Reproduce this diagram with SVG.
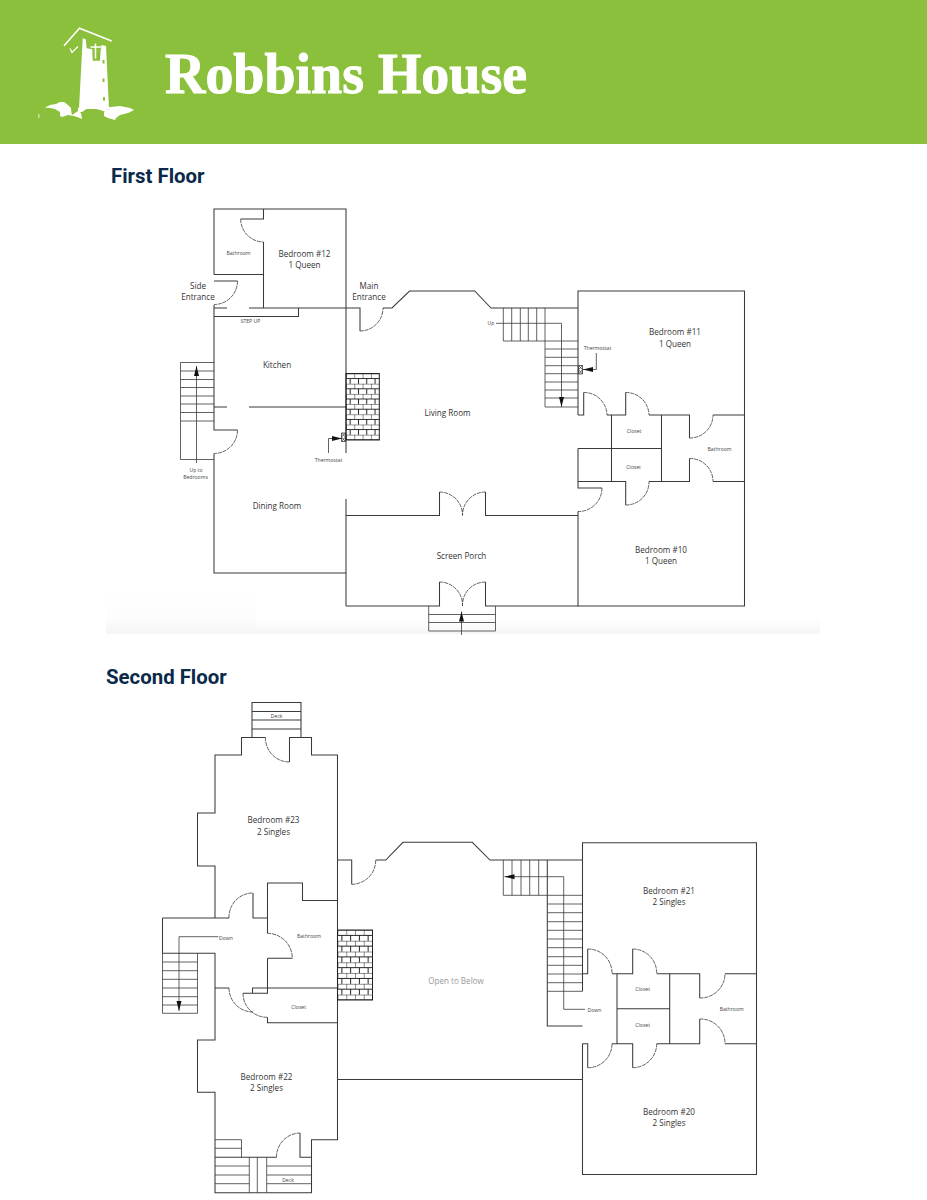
<svg xmlns="http://www.w3.org/2000/svg" width="927" height="1200" viewBox="0 0 927 1200">
<style>
.w{fill:none;stroke:#3a3a3a;stroke-width:1.05}
.t{fill:none;stroke:#3a3a3a;stroke-width:.8}
.d{fill:none;stroke:#3a3a3a;stroke-width:.8;stroke-dasharray:4 .8}
.l{font-family:"Open Sans","Liberation Sans",sans-serif;font-size:8.1px;fill:#333;text-anchor:middle}
.s{font-family:"Open Sans","Liberation Sans",sans-serif;font-size:5.1px;fill:#444;text-anchor:middle}
.h{font-family:Roboto,"Liberation Sans",sans-serif;font-weight:700;font-size:20.4px;fill:#0b2a4a}
</style>
<defs>
<linearGradient id="fade" x1="0" y1="0" x2="0" y2="1"><stop offset="0" stop-color="#f7f7f7" stop-opacity="0"/><stop offset="1" stop-color="#f5f5f5"/></linearGradient>
<pattern id="brick1" patternUnits="userSpaceOnUse" x="346" y="373.5" width="8.3" height="10.2">
<path d="M0 0H8.3M0 5.1H8.3M0 0V5.1M4.15 5.1V10.2" fill="none" stroke="#222" stroke-width="1"/>
</pattern>
<pattern id="brick2" patternUnits="userSpaceOnUse" x="337.5" y="930" width="8.75" height="10.76">
<path d="M0 0H8.75M0 5.38H8.75M0 0V5.38M4.38 5.38V10.76" fill="none" stroke="#222" stroke-width="1"/>
</pattern>
<marker id="ah" markerUnits="userSpaceOnUse" markerWidth="11" markerHeight="6" refX="10" refY="3" orient="auto"><path d="M0 .5L10 3L0 5.5Z" fill="#111"/></marker>
</defs>

<rect width="927" height="1200" fill="#fff"/>
<rect id="banner" width="927" height="144" fill="#8bc03c"/>

<g id="logo">
<path d="M64 45.700L79.500 28.300L111.700 41" fill="none" stroke="#fff" stroke-width="1.600"/>
<path d="M79 109L82.700 38.300L85.700 39.300L86.700 48.300L92.300 49.300L92.700 60.700L100 60.700L101 45L106 46L109 109Z" fill="#fff"/>
<path d="M95.500 43.500V58.500M90.500 47H101.500" fill="none" stroke="#8bc03c" stroke-width="3.200"/>
<path d="M95.500 43.500V58.500M90.500 47H101.500" fill="none" stroke="#fff" stroke-width="1.500"/>
<path d="M70 48.500L72 52.500L78 46.500" fill="none" stroke="#fff" stroke-width="1.200"/>
<rect x="102.500" y="60" width="2" height="3.500" fill="#8bc03c"/>
<rect x="102.500" y="78.500" width="2" height="3.500" fill="#8bc03c"/>
<rect x="103" y="97" width="2" height="3.500" fill="#8bc03c"/>
<path d="M45 107.500L50 105L56 104L60 102L64 102L68 105L71 108L71.500 113L72 115L78 111L81 113L82 119L77 117L74 116L68 115L62 117L60 116L60 112L55 109L50 108Z" fill="#fff"/>
<path d="M78 108L82 106L90 106L100 106L106 106L110 107L106 112L100 110L93 108L88 108L82 112L78 112Z" fill="#fff"/>
<path d="M108 110L110 107L116 106.500L120 106L125 107L130 108L134 110L128 113L120 115L116 118L115 120L108 118L104 116L104 112Z" fill="#fff"/>
<rect x="38.500" y="114" width="0.800" height="4" fill="#fff"/>
</g>
<text id="title" x="165" y="93" font-family="'Liberation Serif','Times New Roman',serif" font-weight="700" font-size="57" fill="#fff" stroke="#fff" stroke-width="1" textLength="362" lengthAdjust="spacingAndGlyphs">Robbins House</text>

<text class="h" x="111" y="183">First Floor</text>
<text class="h" x="106" y="684">Second Floor</text>

<rect x="106" y="618" width="714" height="16" fill="url(#fade)"/>
<rect x="106" y="590" width="150" height="44" fill="url(#fade)" opacity=".4"/>

<g id="first-floor-connectors">
<!-- walls -->
<path class="w" d="M214 274.500V209H346V453"/>
<path class="w" d="M263.500 209V219H240.700M263.500 242V308M214 274.500H263.500"/>
<path class="w" d="M214 281H237.500M214 305V430H237.500M214 453.500V573H346"/>
<path class="w" d="M214 308H227M249 308H360V331M383 308H392L409.500 291H474.700L491 308H578"/>
<path class="w" d="M214 316.500H298.500V308M214 407H227M249 407H346M346 499V606"/>
<path class="w" d="M578 415V291H744.500V606H578V511.500M578 415H583.700V392.500M607 415H625.700V392.500M649 415H689.500V438M713 415H744.500"/>
<path class="w" d="M611.500 415V481.500M661.500 415V481.500M578 448.500H661.500M578 448.500V488H602M578 481.500H625.700V505M649 481.500H689.500V458.500M713 481.500H744.500"/>
<path class="w" d="M346 515.500H439.500V492M485.500 492V515.500H578M346 606H439.500V582M485.500 582V606H578"/>
<!-- doors -->
<path class="d" d="M240.700 219A23 23 0 0 0 263.500 242M237.500 281A23.500 23.500 0 0 1 214 304.500M237.500 430A23.500 23.500 0 0 1 214 453.500M360 331A23 23 0 0 0 383 308"/>
<path class="d" d="M583.700 392.500A23 23 0 0 1 607 415M625.700 392.500A23 23 0 0 1 649 415M689.500 438A23 23 0 0 0 713 415M625.700 505A23 23 0 0 0 649 481.500M689.500 458.500A23 23 0 0 1 713 481.500M602 488A23.500 23.500 0 0 1 578 511.500"/>
<path class="d" d="M439.500 492A23 23 0 0 1 462.500 515.500M485.500 492A23 23 0 0 0 462.500 515.500M439.500 582A23 23 0 0 1 462.500 606M485.500 582A23 23 0 0 0 462.500 606"/>
<!-- stairs -->
<path class="t" d="M214 362.500H180.500V459.500H214M180.500 371H214M180.500 379.500H214M180.500 387.500H214M180.500 396H214M180.500 404H214M180.500 412.500H214M180.500 421H214"/>
<path class="t" d="M196.500 463V366" marker-end="url(#ah)"/>
<path class="t" d="M428.700 606V631H495.500V606M428.700 614.500H495.500M428.700 622.500H495.500"/>
<path class="t" d="M461.500 635V611.500" marker-end="url(#ah)"/>
<path class="t" d="M503.300 308V341H578M511.700 308V341M520.300 308V341M528.300 308V341M536.700 308V341M545 308V407H578M545 349H578M545 357.300H578M545 365.700H578M545 373.700H578M545 382H578M545 390H578M545 398H578"/>
<path class="t" d="M496 323.300H561.500V407" marker-end="url(#ah)"/>
<!-- thermostats -->
<path class="t" d="M328.500 453V438.500H342" marker-end="url(#ah)"/>
<path class="t" d="M341.500 433L345.500 437M345.500 433L341.500 437M341.500 433H345.500V441.500H341.500ZM341.500 437L345.500 441.500M345.500 437L341.500 441.500"/>
<path class="t" d="M596.300 353V369.500H583" marker-end="url(#ah)"/>
<path class="t" d="M578.500 365.500L582.500 369.700M582.500 365.500L578.500 369.700M578.500 365.500H582.500V374H578.500ZM578.500 369.700L582.500 374M582.500 369.700L578.500 374"/>
</g>
<rect id="fireplace-1" x="346" y="373.500" width="33.300" height="66.500" fill="url(#brick1)" stroke="#222" stroke-width="1"/>

<g id="first-floor-labels">
<text class="l" x="304.500" y="257">Bedroom #12</text><text class="l" x="304.500" y="268">1 Queen</text>
<text class="s" x="238.500" y="255">Bathroom</text>
<text class="l" x="198" y="289">Side</text><text class="l" x="198" y="300">Entrance</text>
<text class="l" x="369" y="289">Main</text><text class="l" x="369" y="300">Entrance</text>
<text class="s" x="250.500" y="323">STEP UP</text>
<text class="l" x="277" y="368">Kitchen</text>
<text class="l" x="277" y="509">Dining Room</text>
<text class="l" x="447.500" y="416">Living Room</text>
<text class="s" x="328.500" y="461.500">Thermostat</text>
<text class="s" x="196" y="472">Up to</text><text class="s" x="195.500" y="479">Bedrooms</text>
<text class="s" x="491" y="325">Up</text>
<text class="s" x="597.500" y="349.500">Thermostat</text>
<text class="l" x="675" y="335">Bedroom #11</text><text class="l" x="675" y="346.500">1 Queen</text>
<text class="s" x="634" y="432.500">Closet</text><text class="s" x="633.500" y="468.500">Closet</text>
<text class="s" x="719.500" y="450.500">Bathroom</text>
<text class="l" x="661" y="553">Bedroom #10</text><text class="l" x="661" y="564">1 Queen</text>
<text class="l" x="461.500" y="559">Screen Porch</text>
</g>

<g id="second-floor-connectors">
<!-- west wing -->
<path class="w" d="M252 737.500V702.500H301V737.500M252 711.500H301M252 720H301M252 729H301"/>
<path class="w" d="M265.500 737.500H241.500V755H215V813H197.500V866H215V918M289.500 762V737.500H311.500V755H337.500V1139.700H311.500V1157.300H300V1133"/>
<path class="w" d="M162.500 918H229M253 893V918H267.500M267.500 933.300V883H302.500V900.500H337.500"/>
<path class="w" d="M267.500 958.300H292.300M267.500 958.300V993.300H243M252.500 993.300V988H337.500M267.500 1017.300V1022.700H337.500"/>
<path class="w" d="M229 988H215V953.300H162.500V918M215 988V1040H197.500V1092.300H215V1192.700H311.500V1157.300M215 1157.300H276.500"/>
<path class="t" d="M162.500 953.300V1013.300H197.500V953.300M162.500 962H197.500M162.500 970.700H197.500M162.500 979.300H197.500M162.500 988H197.500M162.500 996.700H197.500M162.500 1005H197.500"/>
<path class="t" d="M218.300 936.700H179V1011" marker-end="url(#ah)"/>
<path class="t" d="M215 1139.700H241.500V1157.300M215 1148.300H241.500M249.300 1157.300V1192.700M257.300 1157.300V1192.700M266.700 1157.300V1192.700M215 1166H249.300M215 1175H249.300M215 1183.700H249.300M266.700 1166H311.500M266.700 1175H311.500M266.700 1183.700H311.500"/>
<!-- central -->
<path class="w" d="M337.500 860H351.700V884.300M375.700 860H385.700L403 842.300H472.300L490 860H582.500M337.500 1079.500H582.500"/>
<!-- east wing -->
<path class="w" d="M582.500 991.300V842.700H756.500V1174.500H582.500V1043.700M582.500 973.700H587.700V949M612 973.700H632.700V949M656.700 973.700H699.700V998M725 973.700H756.500"/>
<path class="w" d="M617 973.700V1043.700M669.700 973.700V1043.700M617 1008.700H669.700M582.500 1043.700H587.700V1067.700M612 1043.700H632.700V1067.700M656.700 1043.700H699.700V1019M725 1043.700H756.500"/>
<path class="w" d="M547.300 860V1026H582.500"/>
<path class="t" d="M503.300 860V895.300H582.500M512 860V895.300M521 860V895.300M529.700 860V895.300M538.700 860V895.300M547.300 904H582.500M547.300 912.700H582.500M547.300 921.700H582.500M547.300 930.300H582.500M547.300 939H582.500M547.300 947.700H582.500M547.300 956.700H582.500M547.300 965.300H582.500M547.300 974H582.500M547.300 982.700H582.500M547.300 991.300H582.500"/>
<path class="t" d="M585 1009.300H563.700V876.700H504.500" marker-end="url(#ah)"/>
<!-- doors -->
<path class="d" d="M265.500 737.500A24 24 0 0 0 289.500 762M229 918A24 24 0 0 1 253 893M267.300 933.300A25 25 0 0 1 292.300 958.300M229 988A24 24 0 0 0 253 1012M243 993.300A24 24 0 0 0 267.500 1017.300M276.500 1157.300A24 24 0 0 1 300 1133M351.700 884.300A24 24 0 0 0 375.700 860"/>
<path class="d" d="M587.700 949A24 24 0 0 1 612 973.700M632.700 949A24 24 0 0 1 656.700 973.700M699.700 998A24.500 24.500 0 0 0 725 973.700M587.700 1067.700A24 24 0 0 0 612 1043.700M632.700 1067.700A24 24 0 0 0 656.700 1043.700M699.700 1019A24.500 24.500 0 0 1 725 1043.700"/>
</g>
<rect id="fireplace-2" x="337.500" y="930" width="35" height="70" fill="url(#brick2)" stroke="#222" stroke-width="1"/>

<g id="second-floor-labels">
<text class="s" x="276.700" y="718">Deck</text>
<text class="l" x="273.500" y="823">Bedroom #23</text><text class="l" x="273.500" y="835">2 Singles</text>
<text class="s" x="226" y="939.500">Down</text>
<text class="s" x="309" y="937.500">Bathroom</text>
<text class="s" x="298.700" y="1008.500">Closet</text>
<text class="l" x="266.500" y="1079.500">Bedroom #22</text><text class="l" x="266.500" y="1091">2 Singles</text>
<text class="s" x="288" y="1182">Deck</text>
<text class="l" x="456" y="984" style="fill:#999">Open to Below</text>
<text class="l" x="669" y="893.500">Bedroom #21</text><text class="l" x="669" y="905">2 Singles</text>
<text class="s" x="642.700" y="991">Closet</text><text class="s" x="642.700" y="1026.500">Closet</text>
<text class="s" x="594.500" y="1012">Down</text>
<text class="s" x="731.700" y="1011">Bathroom</text>
<text class="l" x="669" y="1114.500">Bedroom #20</text><text class="l" x="669" y="1126">2 Singles</text>
</g>
</svg>
